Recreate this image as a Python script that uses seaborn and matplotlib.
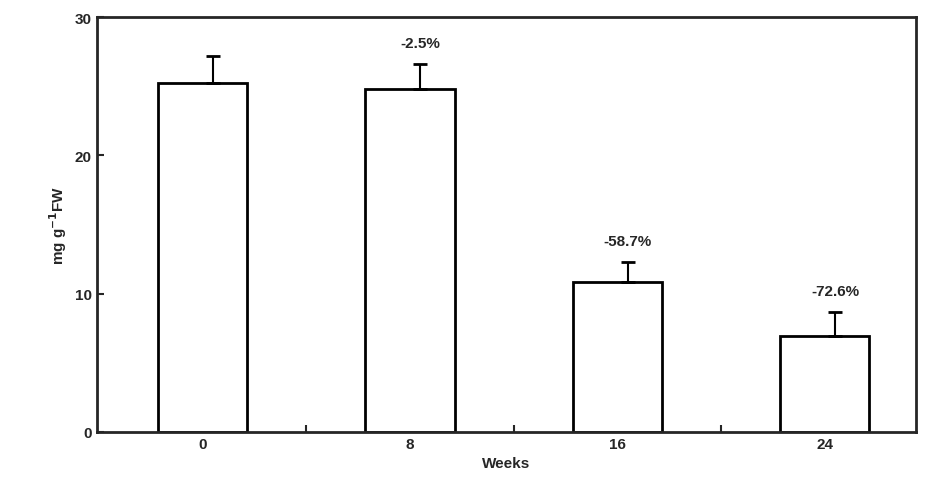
import matplotlib
matplotlib.use("Agg")
import matplotlib.pyplot as plt
import seaborn as sns
import pandas as pd

weeks = ["0", "8", "16", "24"]
values = [25.2, 24.8, 10.8, 6.9]
errors = [2.0, 1.8, 1.5, 1.8]
labels = ["", "-2.5%", "-58.7%", "-72.6%"]

sns.set_style("ticks")
plt.rcParams["font.family"] = ["Liberation Sans", "DejaVu Sans"]
plt.rcParams["font.weight"] = "bold"

df = pd.DataFrame({"Weeks": weeks, "val": values})
fig = plt.figure(figsize=(9.31, 4.89), dpi=100)
ax = fig.add_axes([0.104, 0.115, 0.88, 0.848])
sns.barplot(data=df, x="Weeks", y="val", width=0.43, color="white",
            edgecolor="black", linewidth=2, ax=ax)
for i, (v, e, t) in enumerate(zip(values, errors, labels)):
    ax.errorbar(i + 0.05, v, yerr=[[0], [e]], fmt="none", ecolor="black",
                elinewidth=1.5, capsize=5, capthick=2)
    if t:
        ax.text(i + 0.05, v + e + 1.0, t, ha="center", va="bottom", fontsize=11, fontweight="bold")

ax.set_ylim(0, 30)
ax.set_xlim(-0.51, 3.44)
ax.set_yticks([0, 10, 20, 30])
ax.set_xticks([0.5, 1.5, 2.5], minor=True)
ax.tick_params(axis="x", which="minor", direction="in", length=5, width=1.5)
ax.tick_params(axis="both", which="major", direction="in", length=5, width=1.5, labelsize=11)
for s in ax.spines.values():
    s.set_linewidth(2)
ax.set_xlabel("Weeks", fontsize=11, fontweight="bold")
ax.set_ylabel("mg g$^{-1}$FW", fontsize=11, fontweight="bold")
fig.savefig("out.png", dpi=100)
